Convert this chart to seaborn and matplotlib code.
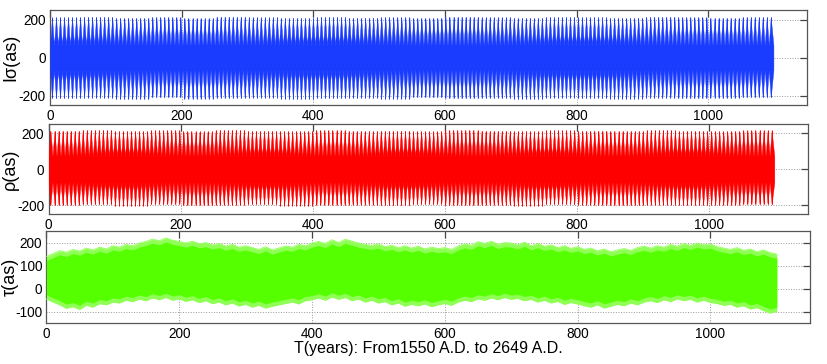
import numpy as np
import matplotlib
matplotlib.use("Agg")
import matplotlib.pyplot as plt
import seaborn as sns

# spike envelopes read per 50-year block (0, 50, ..., 1100)
block = 50
sigma_hi = [212, 216, 210, 214, 208, 217, 212, 210, 215, 211, 213, 209,
            216, 212, 210, 214, 213, 211, 216, 212, 210, 214, 209]
sigma_lo = [-214, -211, -218, -210, -216, -213, -211, -217, -214, -212, -216, -210,
            -215, -213, -217, -211, -214, -216, -212, -215, -213, -210, -212]
rho_hi = [215, 218, 212, 216, 210, 219, 214, 212, 217, 213, 215, 211,
          218, 214, 212, 216, 215, 213, 218, 214, 212, 216, 211]
rho_lo = [-200, -197, -204, -196, -202, -199, -197, -203, -200, -198, -202, -196,
          -201, -199, -203, -197, -200, -202, -198, -201, -199, -196, -198]
sigma_core = 65
rho_core = 72
spike_period = 6.1
t_end = 1099

# tau band edges read every 10 years (0 ... 1100)
tau_years = list(range(0, 1101, 10))
tau_hi = [140, 152, 165, 158, 170, 163, 176, 168, 180, 172, 186,
          180, 192, 186, 198, 205, 215, 208, 220, 210, 205,
          198, 206, 195, 200, 190, 196, 185, 192, 180, 186,
          178, 170, 182, 168, 176, 185, 180, 192, 186, 198,
          205, 196, 212, 200, 214, 206, 198, 192, 188, 194,
          182, 188, 178, 186, 176, 184, 172, 180, 174, 178,
          170, 185, 195, 188, 204, 196, 206, 192, 200, 198,
          190, 202, 186, 196, 184, 190, 178, 186, 175, 182,
          170, 176, 164, 172, 160, 168, 174, 166, 178, 184,
          176, 186, 180, 192, 184, 196, 188, 198, 190, 194,
          182, 176, 170, 178, 166, 172, 160, 168, 156, 150]
tau_lo = [-45, -58, -70, -85, -78, -90, -72, -80, -65, -70, -58,
          -62, -50, -56, -45, -52, -40, -48, -38, -50, -44,
          -55, -48, -60, -52, -65, -58, -70, -62, -75, -68,
          -80, -72, -84, -76, -70, -64, -58, -66, -52, -48,
          -40, -50, -36, -46, -38, -52, -45, -58, -50, -62,
          -56, -70, -62, -76, -68, -74, -66, -78, -70, -64,
          -72, -58, -50, -56, -44, -50, -40, -48, -38, -46,
          -42, -52, -46, -58, -50, -62, -55, -68, -60, -66,
          -74, -80, -70, -84, -76, -68, -74, -62, -70, -58,
          -52, -60, -48, -56, -44, -52, -46, -58, -50, -60,
          -64, -72, -68, -80, -74, -88, -82, -95, -106, -98]

sns.set_theme(style="white")
plt.rcParams['font.family'] = ['Liberation Sans', 'DejaVu Sans']
plt.rcParams['axes.unicode_minus'] = False
plt.rcParams['text.color'] = 'black'
plt.rcParams['axes.labelcolor'] = 'black'


def spikes(hi, lo, core):
    tk = np.arange(3.0, t_end, spike_period)
    idx = np.minimum((tk // block).astype(int), len(hi) - 1)
    h, l = np.array(hi)[idx], np.array(lo)[idx]
    x, up, dn = [0.0], [core], [-core]
    for t, a, b in zip(tk, h, l):
        x += [t - spike_period / 2, t]
        up += [core, a]
        dn += [-core, b]
    x.append(t_end)
    up.append(core)
    dn.append(-core)
    return np.array(x), np.array(up), np.array(dn), tk, h, l


fig = plt.figure(figsize=(8.27, 3.64), dpi=100)
W, H = 827, 364
ax1 = fig.add_axes([50 / W, 1 - 105 / H, 757 / W, 94.7 / H])
ax2 = fig.add_axes([48.5 / W, 1 - 214 / H, 759.5 / W, 89.7 / H])
ax3 = fig.add_axes([46.4 / W, 1 - 323.3 / H, 763.6 / W, 92.3 / H])

for ax, hi, lo, core, col in [(ax1, sigma_hi, sigma_lo, sigma_core, '#1a3cff'),
                              (ax2, rho_hi, rho_lo, rho_core, '#ff0000')]:
    x, up, dn, tk, h, l = spikes(hi, lo, core)
    ax.fill_between(x, dn, up, color=col, lw=0.3, edgecolor=col, zorder=3)
    ax.vlines(tk, l, h, color=col, lw=0.7, zorder=3)
    ax.set_ylim(-250, 250)
    ax.set_yticks([-200, 0, 200])

tau_hi = np.array(tau_hi)
tau_lo = np.array(tau_lo)
ax3.fill_between(tau_years, tau_lo, tau_hi, color='#8fff55', lw=0, zorder=3)
ax3.fill_between(tau_years, tau_lo + 18, tau_hi - 18, color='#55ff00', lw=0, zorder=3)
sns.lineplot(x=tau_years, y=tau_hi, ax=ax3, color='#8fff55', lw=0.6, zorder=3)
sns.lineplot(x=tau_years, y=tau_lo, ax=ax3, color='#8fff55', lw=0.6, zorder=3)
ax3.set_ylim(-150, 250)
ax3.set_yticks([-100, 0, 100, 200])

for ax, lab in [(ax1, 'I\u03c3(as)'), (ax2, '\u03c1(as)'), (ax3, '\u03c4(as)')]:
    ax.set_xlim(0, 1150)
    ax.set_xticks([0, 200, 400, 600, 800, 1000])
    ax.grid(True, ls=':', color='#999999', lw=0.7, zorder=0)
    ax.set_axisbelow(True)
    ax.tick_params(direction='in', top=True, right=True, length=5, width=0.9,
                   labelsize=9.8, colors='#444444', labelcolor='black', pad=3)
    for s in ax.spines.values():
        s.set_color('#555555')
        s.set_linewidth(0.9)
    ax.set_ylabel(lab, fontsize=13, color='black')
    pos = ax.get_position()
    ax.yaxis.set_label_coords(19 / W, (pos.y0 + pos.y1) / 2, transform=fig.transFigure)
    ax.set_xlabel('')

ax3.set_xlabel('T(years): From1550 A.D. to 2649 A.D.', fontsize=11.5, labelpad=0,
               color='black')

fig.savefig('out.png', dpi=100)
